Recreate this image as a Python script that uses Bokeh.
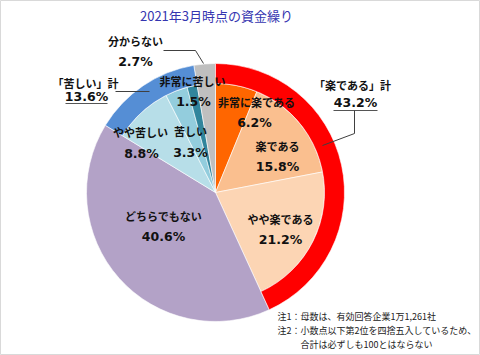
import numpy as np
from bokeh.plotting import figure
from bokeh.models import Range1d
from bokeh.core.properties import value
from bokeh.embed import file_html
from bokeh.resources import INLINE

# ---------------- data ----------------
title_text = "2021年3月時点の資金繰り"
categories = ["非常に楽である", "楽である", "やや楽である", "どちらでもない",
              "やや苦しい", "苦しい", "非常に苦しい", "分からない"]
shares = [6.2, 15.8, 21.2, 40.6, 8.8, 3.3, 1.5, 2.7]
pct_labels = ["6.2%", "15.8%", "21.2%", "40.6%", "8.8%", "3.3%", "1.5%", "2.7%"]
group_names = ["「楽である」計", "「苦しい」計"]
group_shares = [43.2, 13.6]
group_members = [[0, 1, 2], [4, 5, 6]]
notes = ["注1：母数は、有効回答企業1万1,261社",
         "注2：小数点以下第2位を四捨五入しているため、",
         "合計は必ずしも100とはならない"]

# ---------------- styling / layout ----------------
W, H = 480, 355
slice_colors = ["#FF6600", "#FABF8F", "#FCD5B4", "#B3A2C7",
                "#B7DEE8", "#93CDDD", "#31859C", "#BFBFBF"]
group_colors = ["#FF0000", "#558ED5"]
CX, CY_S = 215, 192
R_OUT, R_IN = 129, 109
CJK = "Noto Sans CJK JP"
NUM = "DejaVu Sans"


def Y(ys):
    return H - ys


p = figure(width=W, height=H, output_backend="svg", toolbar_location=None,
           x_range=Range1d(0, W), y_range=Range1d(0, H), min_border=0)
p.axis.visible = False
p.grid.visible = False
p.outline_line_color = "#D9D9D9"
p.background_fill_color = "white"

total = sum(shares)
frac = np.array(shares) / total
cum = np.concatenate([[0], np.cumsum(frac)])
start = np.pi / 2 - cum[:-1] * 2 * np.pi
end = np.pi / 2 - cum[1:] * 2 * np.pi
grouped = set(i for g in group_members for i in g)
radii = [R_IN if i in grouped else R_OUT for i in range(len(shares))]

p.wedge(x=[CX] * len(shares), y=[Y(CY_S)] * len(shares), radius=radii,
        start_angle=list(start), end_angle=list(end), direction="clock",
        fill_color=slice_colors, line_color="white", line_width=0.6)

g_start = [start[g[0]] for g in group_members]
g_end = [end[g[-1]] for g in group_members]
p.annular_wedge(x=[CX] * 2, y=[Y(CY_S)] * 2, inner_radius=R_IN, outer_radius=R_OUT,
                start_angle=g_start, end_angle=g_end, direction="clock",
                fill_color=group_colors, line_color="white", line_width=0.6)

# title
p.text(x=[216], y=[Y(15)], text=[title_text], text_font=value(CJK),
       text_font_size="13px", text_color="#3535B0", text_align="center",
       text_baseline="middle")

# slice labels: (name pos), (pct pos)
name_pos = [(256, 101), (277, 145), (280, 218), (163, 215),
            (140, 131), (190, 130), (192, 80), (135, 40)]
pct_pos = [(254, 122), (277, 166), (280, 239), (163, 236),
           (141, 153), (190, 152), (193, 101), (135, 61)]
p.text(x=[q[0] for q in name_pos], y=[Y(q[1]) for q in name_pos], text=categories,
       text_font=value(CJK), text_font_style="bold", text_font_size="11px",
       text_color="#111111", text_align="center", text_baseline="middle")
p.text(x=[q[0] for q in pct_pos], y=[Y(q[1]) for q in pct_pos], text=pct_labels,
       text_font=value(NUM), text_font_style="bold", text_font_size="12.5px",
       text_color="#111111", text_align="center", text_baseline="middle")

# group labels
g_name_pos = [(352, 84), (85, 82)]
g_pct_pos = [(355, 102), (86, 96)]
g_pct_text = [f"{v:.1f}%" for v in group_shares]
p.text(x=[q[0] for q in g_name_pos], y=[Y(q[1]) for q in g_name_pos], text=group_names,
       text_font=value(CJK), text_font_style="bold", text_font_size="11px",
       text_color="#111111", text_align="center", text_baseline="middle")
p.text(x=[q[0] for q in g_pct_pos], y=[Y(q[1]) for q in g_pct_pos], text=g_pct_text,
       text_font=value(NUM), text_font_style="bold", text_font_size="12.5px",
       text_color="#111111", text_align="center", text_baseline="middle")
# underlines
p.multi_line(xs=[[333, 377], [65, 107]], ys=[[Y(110), Y(110)], [Y(103), Y(103)]],
             line_color="#555555", line_width=1)

# leader lines
p.multi_line(xs=[[354, 354, 322], [115, 149], [163, 195, 203]],
             ys=[[Y(110), Y(133), Y(145)], [Y(91), Y(91)], [Y(50), Y(50), Y(63)]],
             line_color="#404040", line_width=1)

# notes
p.text(x=[277, 277, 300], y=[Y(316), Y(330), Y(344)], text=notes,
       text_font=value(CJK), text_font_size="9px", text_color="#222222",
       text_align="left", text_baseline="middle")

open("out.html", "w").write(file_html(p, INLINE))
